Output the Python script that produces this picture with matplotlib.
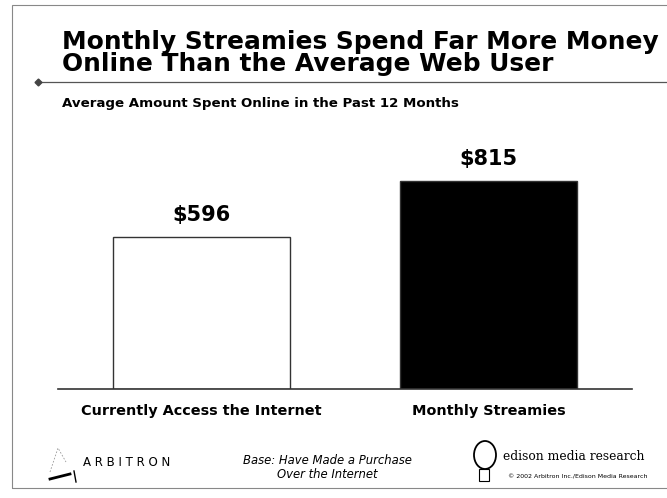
import matplotlib
matplotlib.use("Agg")
import matplotlib.pyplot as plt
from matplotlib.patches import Rectangle, Ellipse
from matplotlib.lines import Line2D

categories = ["Currently Access the Internet", "Monthly Streamies"]
values = [596, 815]
value_labels = ["$596", "$815"]
bar_colors = ["white", "black"]

title = "Monthly Streamies Spend Far More Money\nOnline Than the Average Web User"
subtitle = "Average Amount Spent Online in the Past 12 Months"
base_note = "Base: Have Made a Purchase\nOver the Internet"

W, H = 667, 498
fig = plt.figure(figsize=(W / 100, H / 100), dpi=100)
fig.patch.set_facecolor("white")

def fx(px):
    return px / W

def fy(py):
    return 1 - py / H

BOLD = "DejaVu Sans"

# outer frame
fig.add_artist(Rectangle((fx(12), fy(488)), fx(675) - fx(12), fy(5) - fy(488),
                         transform=fig.transFigure, fill=False, edgecolor="#888888", lw=0.8))

# Title
fig.text(fx(62), fy(53), title, fontsize=17.9, fontweight="bold", family=BOLD,
         ha="left", va="center", linespacing=0.9, color="black")
# rule under title
fig.add_artist(Line2D([fx(38), fx(667)], [fy(82), fy(82)], transform=fig.transFigure,
                      color="#555555", lw=0.9))
fig.add_artist(Line2D([fx(38)], [fy(82)], transform=fig.transFigure, marker="D",
                      markersize=3.5, color="#444444"))
fig.text(fx(62), fy(103), subtitle, fontsize=9.6, fontweight="bold", family=BOLD,
         ha="left", va="center")

# Bars
ax = fig.add_axes([fx(58), fy(389), fx(632) - fx(58), (389 - 134) / H])
x = list(range(len(categories)))
bars = ax.bar(x, values, width=0.62, color=bar_colors, edgecolor="#333333", linewidth=1.0)
ax.set_xlim(-0.5, 1.5)
ax.set_ylim(0, 1000)
for s in ["top", "right", "left"]:
    ax.spines[s].set_visible(False)
ax.spines["bottom"].set_color("#333333")
ax.spines["bottom"].set_linewidth(1.2)
ax.set_yticks([])
ax.set_xticks(x)
ax.set_xticklabels(categories, fontsize=10.4, fontweight="bold", family=BOLD)
ax.tick_params(axis="x", length=0, pad=11)
ax.patch.set_alpha(0)
for xi, v, lab in zip(x, values, value_labels):
    ax.annotate(lab, (xi, v), xytext=(0, 9), textcoords="offset points",
                ha="center", va="bottom", fontsize=15, fontweight="bold", family=BOLD)

# Footer
fig.text(fx(83), fy(462), "A R B I T R O N", fontsize=8.5, family="DejaVu Sans",
         ha="left", va="center")
# simple arbitron mark
fig.add_artist(Line2D([fx(50), fx(70)], [fy(479), fy(474)], transform=fig.transFigure,
                      color="black", lw=2))
fig.add_artist(Line2D([fx(50), fx(58), fx(66)], [fy(472), fy(448), fy(462)],
                      transform=fig.transFigure, color="#999999", lw=0.6, ls=(0, (2, 2))))
fig.add_artist(Line2D([fx(74), fx(76)], [fy(471), fy(482)],
                      transform=fig.transFigure, color="black", lw=1))
fig.text(fx(327), fy(467), base_note, fontsize=8.4, style="italic", family="DejaVu Sans",
         ha="center", va="center", linespacing=1.1)

fig.text(fx(503), fy(456), "edison media research", fontsize=8.8, family="DejaVu Serif",
         ha="left", va="center")
fig.text(fx(508), fy(477), "\u00a9 2002 Arbitron Inc./Edison Media Research", fontsize=4.5,
         family="DejaVu Sans", ha="left", va="center")
# simple edison bulb mark
fig.add_artist(Ellipse((fx(485), fy(455)), fx(22), (28 / H), transform=fig.transFigure,
                       fill=False, edgecolor="black", lw=1.3))
fig.add_artist(Rectangle((fx(479), fy(481)), fx(10), 12 / H, transform=fig.transFigure,
                         fill=False, edgecolor="black", lw=0.8))

fig.savefig("out.png", dpi=100, facecolor="white")
